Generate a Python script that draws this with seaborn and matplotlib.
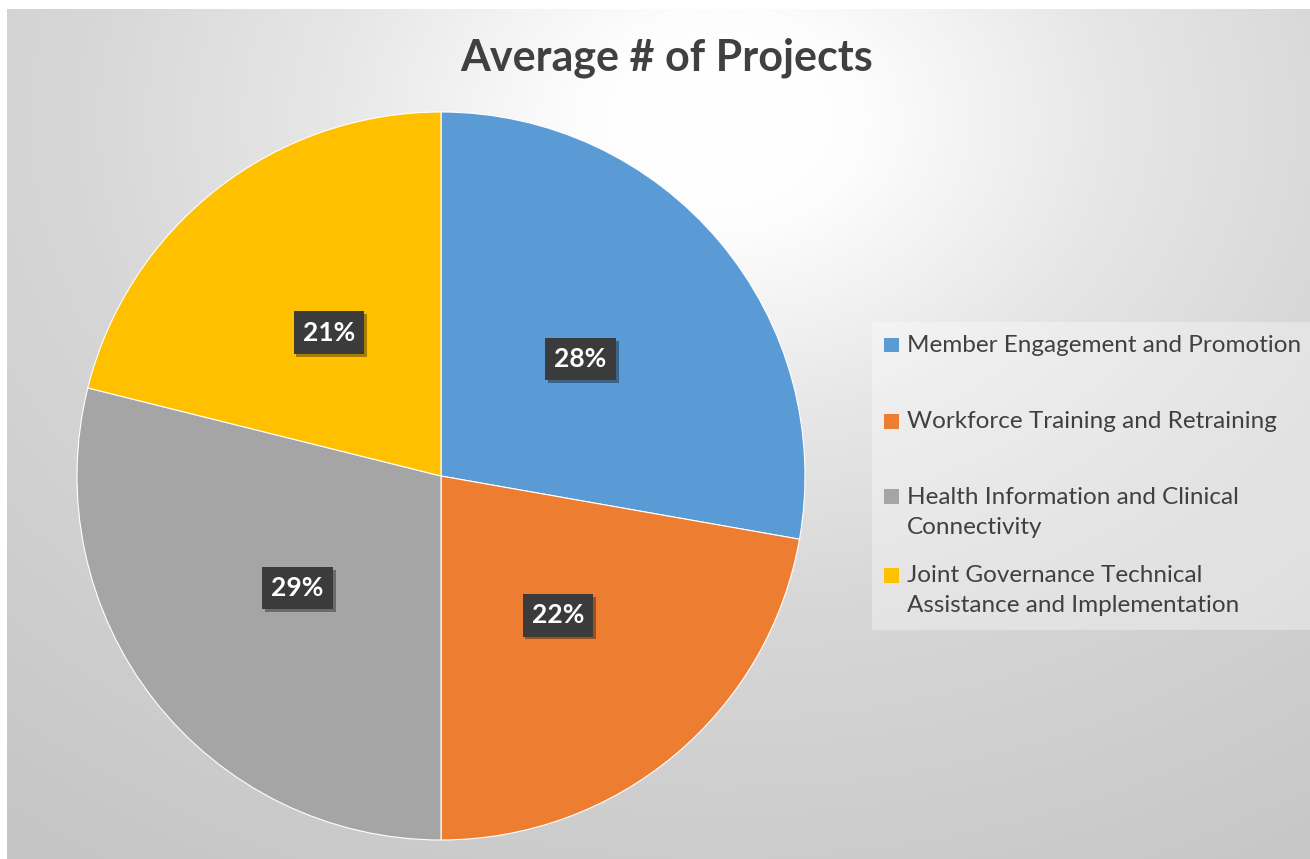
import numpy as np
import matplotlib
matplotlib.use("Agg")
import matplotlib.pyplot as plt
import matplotlib.patheffects as pe
from matplotlib.patches import Rectangle
import seaborn as sns

# data
categories = ["Member Engagement and Promotion",
              "Workforce Training and Retraining",
              "Health Information and Clinical\nConnectivity",
              "Joint Governance Technical\nAssistance and Implementation"]
avg_projects = [2.5, 2.0, 2.6, 1.9]
slice_colors = ["#5B9BD5", "#ED7D31", "#A5A5A5", "#FFC000"]
title = "Average # of Projects"

sns.set_theme(style="white")
plt.rcParams["font.family"] = ["Lato", "DejaVu Sans"]

W, H = 1310, 859
fig = plt.figure(figsize=(W / 100, H / 100), dpi=100)
fig.patch.set_facecolor("white")

def fx(x):
    return x / W

def fy(y):
    return 1 - y / H

# background panel with a soft grey gradient (white near upper middle)
bg = fig.add_axes([fx(7), 0, 1 - fx(7), 1 - 9 / H])
bg.set_axis_off()
yy, xx = np.mgrid[9:H, 7:W]
d = np.sqrt(((xx - 720.0) / 1.3) ** 2 + (yy - 120.0) ** 2)
f = np.interp(d, [0, 100, 300, 500, 900], [0, 0.02, 0.42, 0.70, 1.0])
grey = 255 - (255 - 197) * f
img = np.dstack([grey, grey, grey]) / 255.0
bg.imshow(img, aspect="auto", extent=[0, 1, 0, 1])
bg.set_xlim(0, 1)
bg.set_ylim(0, 1)

# pie
cx, cy, r = 441, 476, 364
ax = fig.add_axes([fx(cx - r), fy(cy + r), 2 * r / W, 2 * r / H])
pal = sns.color_palette(slice_colors)
wedges, texts, autotexts = ax.pie(
    avg_projects, colors=pal, startangle=90, counterclock=False,
    autopct="%1.0f%%", pctdistance=0.5,
    wedgeprops=dict(edgecolor="white", linewidth=0.8),
    textprops=dict(color="white", fontsize=19, fontweight="bold"))
ax.set_xlim(-1, 1)
ax.set_ylim(-1, 1)
ax.set_axis_off()
for t in autotexts:
    t.set_bbox(dict(boxstyle="square,pad=0.35", facecolor="#3b3b3b", edgecolor="none"))
    t.get_bbox_patch().set_path_effects(
        [pe.SimplePatchShadow(offset=(2, -2), shadow_rgbFace="black", alpha=0.35), pe.Normal()])

# title
fig.text(fx(667), fy(58), title, ha="center", va="center",
         fontsize=31, fontweight="bold", color="#404040")

# legend (drawn by hand to match layout)
fig.patches.append(Rectangle((fx(872), fy(630)), fx(W - 872), (630 - 322) / H,
                             transform=fig.transFigure, facecolor="white",
                             alpha=0.35, edgecolor="none"))
first_line_y = [345, 421, 497, 575]
for lab, col, y0 in zip(categories, pal, first_line_y):
    fig.patches.append(Rectangle((fx(884), fy(y0 + 7.5)), 15 / W, 15 / H,
                                 transform=fig.transFigure, facecolor=col,
                                 edgecolor="none"))
    for i, line in enumerate(lab.split("\n")):
        fig.text(fx(907), fy(y0 + 31 * i), line, ha="left", va="center",
                 fontsize=17.5, color="#404040")

fig.savefig("out.png", dpi=100)
